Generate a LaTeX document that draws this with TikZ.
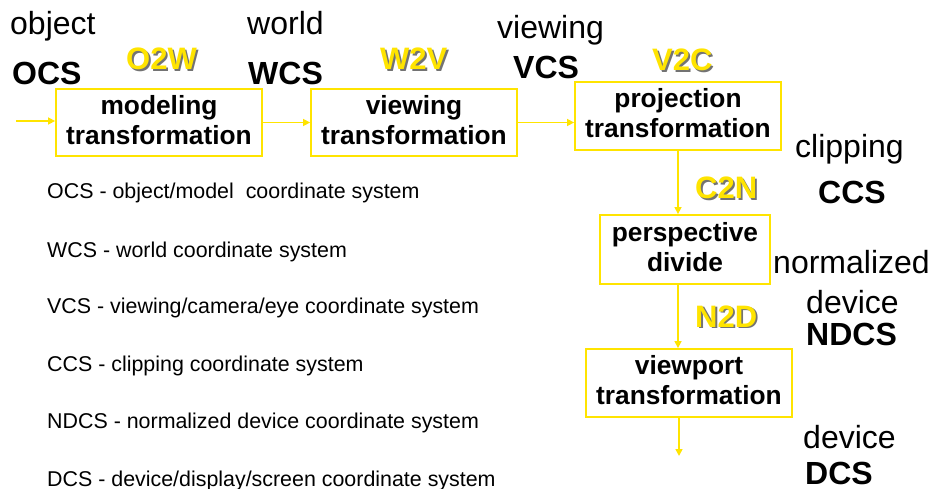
\documentclass[tikz,border=0pt]{standalone}
\usepackage{fontspec}
\setmainfont{Liberation Sans}
\usetikzlibrary{arrows.meta}

\definecolor{gold}{RGB}{255,228,0}
% yellow text with a soft grey drop shadow
\newcommand{\shtext}[1]{\makebox[0pt][l]{\hspace{1.8pt}\raisebox{-1.8pt}{\color{black!55}#1}}#1}

\begin{document}
\begin{tikzpicture}[x=1pt,y=-1pt]
\tikzstyle{stage}=[draw=gold, line width=1.8pt, align=center, inner sep=0pt, text depth=6pt,
	font=\fontsize{26.3}{30}\selectfont\bfseries]
\tikzstyle{space}=[anchor=base west, inner sep=0pt, font=\fontsize{32}{36}\selectfont]
\tikzstyle{abbr}=[space, font=\fontsize{32}{36}\selectfont\bfseries]
\tikzstyle{xform}=[anchor=base west, inner sep=0pt, text=gold,
	font=\fontsize{31}{36}\selectfont\bfseries]
\tikzstyle{legend}=[anchor=base west, inner sep=0pt, font=\fontsize{21.4}{24}\selectfont]
\tikzstyle{flow}=[draw=gold, line width=1.5pt, -{Triangle[length=7pt,width=7pt]}]

\useasboundingbox (0,0) rectangle (931,489);

% pipeline stages
\node[stage, minimum width=206pt, minimum height=67pt] (mod) at (159,122.5) {modeling\\transformation};
\node[stage, minimum width=206pt, minimum height=67pt] (view) at (414,122.5) {viewing\\transformation};
\node[stage, minimum width=206pt, minimum height=68pt] (proj) at (678,116) {projection\\transformation};
\node[stage, minimum width=170pt, minimum height=69pt] (persp) at (685,249.5) {perspective\\divide};
\node[stage, minimum width=206pt, minimum height=68pt] (vport) at (689,383) {viewport\\transformation};

% coordinate spaces
\node[space] (obj) at (10,35) {object};
\node[abbr] (ocs) at (12,85) {OCS};
\node[space] (wld) at (247,35) {world};
\node[abbr] (wcs) at (248,85) {WCS};
\node[space] (vwg) at (497,39) {viewing};
\node[abbr] (vcs) at (513,79) {VCS};
\node[space] (clp) at (795,158) {clipping};
\node[abbr] (ccs) at (818,204) {CCS};
\node[space] (nrm) at (773,273) {normalized};
\node[space] (dev1) at (806,313) {device};
\node[abbr] (ndcs) at (806,345) {NDCS};
\node[space] (dev2) at (803,448) {device};
\node[abbr] (dcs) at (805,484) {DCS};

% transforms between spaces
\node[xform] (o2w) at (126,70) {\shtext{O2W}};
\node[xform] (w2v) at (380,70) {\shtext{W2V}};
\node[xform] (v2c) at (652,71) {\shtext{V2C}};
\node[xform] (c2n) at (695,199) {\shtext{C2N}};
\node[xform] (n2d) at (695,327) {\shtext{N2D}};

% abbreviations
\node[legend] (l1) at (47,199) {OCS - object/model\ \ coordinate system};
\node[legend] (l2) at (47,257) {WCS - world coordinate system};
\node[legend] (l3) at (47,313) {VCS - viewing/camera/eye coordinate system};
\node[legend] (l4) at (47,371) {CCS - clipping coordinate system};
\node[legend] (l5) at (47,428) {NDCS - normalized device coordinate system};
\node[legend] (l6) at (47,486) {DCS - device/display/screen coordinate system};

% arrows
\coordinate (src) at (16,121);
\coordinate (dst) at (679,456);
\draw[flow] (src) -- (src -| mod.west);
\draw[flow] (mod.east) -- (view.west);
\draw[flow] (view.east) -- (view.east -| proj.west);
\draw[flow] (proj.south) -- (proj.south |- persp.north);
\draw[flow] (persp.south -| proj.south) -- (vport.north -| proj.south);
\draw[flow] (vport.south -| dst) -- (dst);
\end{tikzpicture}
\end{document}
